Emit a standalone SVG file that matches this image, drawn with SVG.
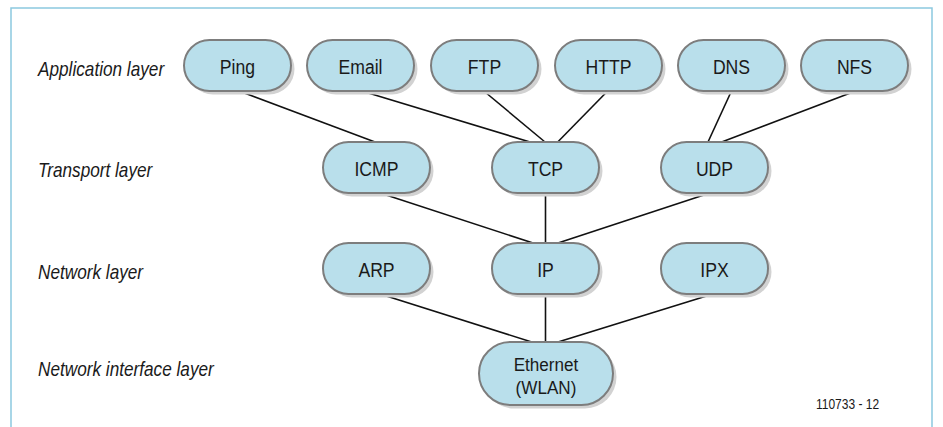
<svg xmlns="http://www.w3.org/2000/svg" width="943" height="427" viewBox="0 0 943 427">
<style>
.frame{fill:none;stroke:#8cc9df;stroke-width:1.5}
.shadow{fill:#d2d2d2}
.node{fill:#b9dfeb;stroke:#7d7d7d;stroke-width:2}
.lbl{font-family:"Liberation Sans",Arial,sans-serif;font-size:21px;fill:#1a1a1a;text-anchor:middle}
.lbl2{font-family:"Liberation Sans",Arial,sans-serif;font-size:19px;fill:#1a1a1a;text-anchor:middle}
.layer{font-family:"Liberation Sans",Arial,sans-serif;font-size:20px;font-style:italic;fill:#1a1a1a}
.code{font-family:"Liberation Sans",Arial,sans-serif;font-size:15px;fill:#1a1a1a}
.conn line{stroke:#111;stroke-width:1.6}
</style>
<rect x="0" y="0" width="943" height="427" fill="#ffffff"/>
<path class="frame" d="M11,430 V8 H932 V430"/>

<g id="layer-labels">
<text class="layer" transform="translate(38,76) scale(0.86,1)">Application layer</text>
<text class="layer" transform="translate(38,177) scale(0.86,1)">Transport layer</text>
<text class="layer" transform="translate(38,279) scale(0.86,1)">Network layer</text>
<text class="layer" transform="translate(38,376) scale(0.86,1)">Network interface layer</text>
</g>

<g id="connectors" class="conn">
<line x1="241.7" y1="92" x2="375" y2="142"/>
<line x1="365" y1="92" x2="530" y2="142"/>
<line x1="485" y1="92" x2="545" y2="142"/>
<line x1="606.7" y1="92" x2="557.7" y2="142"/>
<line x1="731" y1="92" x2="708" y2="142"/>
<line x1="853" y1="92" x2="721.7" y2="142"/>
<line x1="380" y1="193" x2="533" y2="243"/>
<line x1="545.5" y1="193" x2="545.5" y2="243"/>
<line x1="710" y1="193" x2="558" y2="243"/>
<line x1="380" y1="294" x2="531.7" y2="342"/>
<line x1="545.5" y1="294" x2="545.5" y2="342"/>
<line x1="713" y1="294" x2="558" y2="342"/>
</g>

<g id="node-ping">
<rect class="shadow" x="187.5" y="43.5" width="107" height="51" rx="25.5"/>
<rect class="node" x="184" y="40" width="107" height="51" rx="25.5"/>
<text class="lbl" transform="translate(237.5,74) scale(0.84,1)">Ping</text>
</g>
<g id="node-email">
<rect class="shadow" x="310.5" y="43.5" width="107" height="51" rx="25.5"/>
<rect class="node" x="307" y="40" width="107" height="51" rx="25.5"/>
<text class="lbl" transform="translate(360.5,74) scale(0.84,1)">Email</text>
</g>
<g id="node-ftp">
<rect class="shadow" x="434.5" y="43.5" width="107" height="51" rx="25.5"/>
<rect class="node" x="431" y="40" width="107" height="51" rx="25.5"/>
<text class="lbl" transform="translate(484.5,74) scale(0.84,1)">FTP</text>
</g>
<g id="node-http">
<rect class="shadow" x="558.5" y="43.5" width="107" height="51" rx="25.5"/>
<rect class="node" x="555" y="40" width="107" height="51" rx="25.5"/>
<text class="lbl" transform="translate(608.5,74) scale(0.84,1)">HTTP</text>
</g>
<g id="node-dns">
<rect class="shadow" x="681.5" y="43.5" width="107" height="51" rx="25.5"/>
<rect class="node" x="678" y="40" width="107" height="51" rx="25.5"/>
<text class="lbl" transform="translate(731.5,74) scale(0.84,1)">DNS</text>
</g>
<g id="node-nfs">
<rect class="shadow" x="804.5" y="43.5" width="107" height="51" rx="25.5"/>
<rect class="node" x="801" y="40" width="107" height="51" rx="25.5"/>
<text class="lbl" transform="translate(854.5,74) scale(0.84,1)">NFS</text>
</g>

<g id="node-icmp">
<rect class="shadow" x="326.5" y="145.5" width="107" height="51" rx="25.5"/>
<rect class="node" x="323" y="142" width="107" height="51" rx="25.5"/>
<text class="lbl" transform="translate(376.5,176) scale(0.84,1)">ICMP</text>
</g>
<g id="node-tcp">
<rect class="shadow" x="495.5" y="145.5" width="107" height="51" rx="25.5"/>
<rect class="node" x="492" y="142" width="107" height="51" rx="25.5"/>
<text class="lbl" transform="translate(545.5,176) scale(0.84,1)">TCP</text>
</g>
<g id="node-udp">
<rect class="shadow" x="664.5" y="145.5" width="107" height="51" rx="25.5"/>
<rect class="node" x="661" y="142" width="107" height="51" rx="25.5"/>
<text class="lbl" transform="translate(714.5,176) scale(0.84,1)">UDP</text>
</g>

<g id="node-arp">
<rect class="shadow" x="326.5" y="246.5" width="107" height="51" rx="25.5"/>
<rect class="node" x="323" y="243" width="107" height="51" rx="25.5"/>
<text class="lbl" transform="translate(376.5,277) scale(0.84,1)">ARP</text>
</g>
<g id="node-ip">
<rect class="shadow" x="495.5" y="246.5" width="107" height="51" rx="25.5"/>
<rect class="node" x="492" y="243" width="107" height="51" rx="25.5"/>
<text class="lbl" transform="translate(545.5,277) scale(0.84,1)">IP</text>
</g>
<g id="node-ipx">
<rect class="shadow" x="664.5" y="246.5" width="107" height="51" rx="25.5"/>
<rect class="node" x="661" y="243" width="107" height="51" rx="25.5"/>
<text class="lbl" transform="translate(714.5,277) scale(0.84,1)">IPX</text>
</g>

<g id="node-ethernet">
<rect class="shadow" x="482.5" y="345.5" width="134" height="63" rx="31.5"/>
<rect class="node" x="479" y="342" width="134" height="63" rx="31.5"/>
<text class="lbl2" transform="translate(546,370.5) scale(0.9,1)">Ethernet</text>
<text class="lbl2" transform="translate(546,394) scale(0.9,1)">(WLAN)</text>
</g>

<text class="code" transform="translate(816,409) scale(0.8,1)">110733 - 12</text>
</svg>
